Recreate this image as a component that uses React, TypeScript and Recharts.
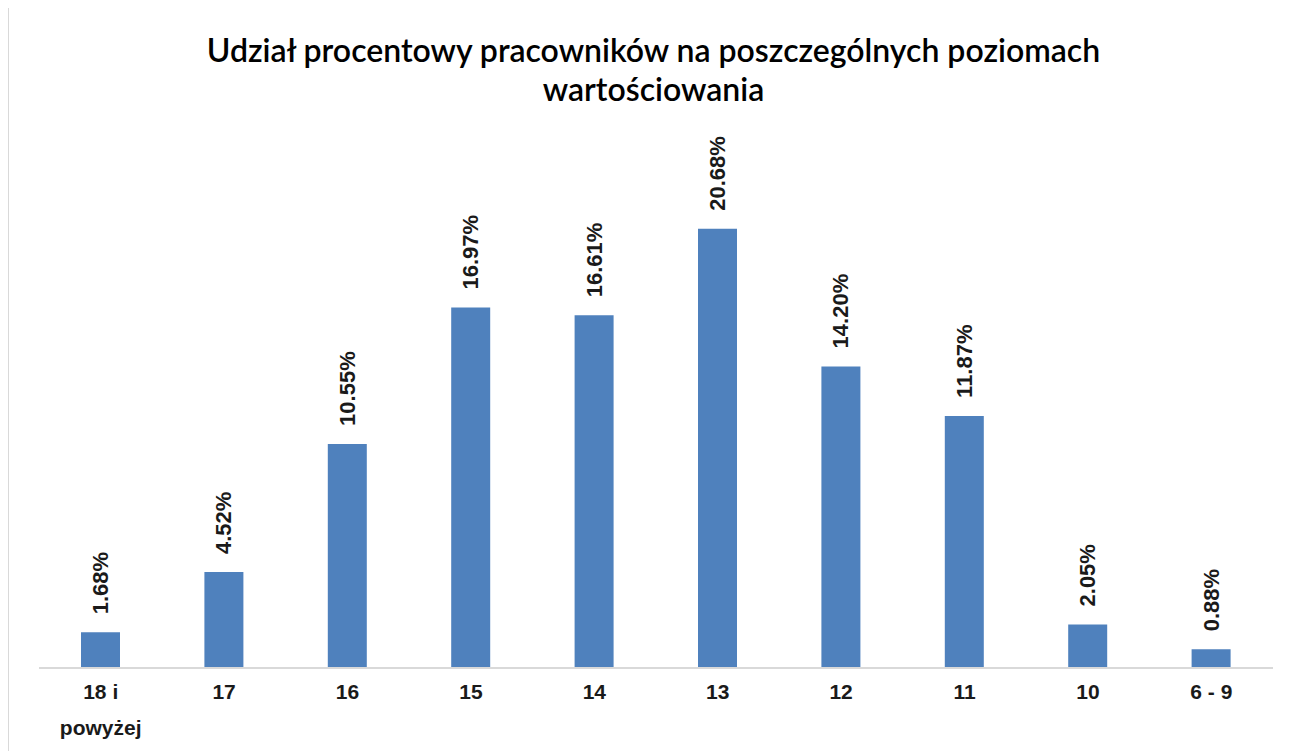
import React from 'react';
import { BarChart, Bar, XAxis, YAxis, LabelList } from 'recharts';

const poziomy = ['18 i powyżej', '17', '16', '15', '14', '13', '12', '11', '10', '6 - 9'];
const udzialy = [1.68, 4.52, 10.55, 16.97, 16.61, 20.68, 14.2, 11.87, 2.05, 0.88];
const tytul = ['Udział procentowy pracowników na poszczególnych poziomach', 'wartościowania'];

const dane = poziomy.map((poziom, i) => ({ poziom, udzial: udzialy[i] }));

const CZCIONKA = '"Liberation Sans", Arial, sans-serif';

// Etykieta osi X - dłuższe nazwy łamane na dwie linie
const TickKategorii = ({ x, y, payload }: any) => {
  const tekst: string = payload.value;
  let linie = [tekst];
  if (tekst.length > 8) {
    const idx = tekst.lastIndexOf(' ');
    linie = [tekst.slice(0, idx), tekst.slice(idx + 1)];
  }
  return (
    <g transform={`translate(${x},${y})`}>
      {linie.map((l, i) => (
        <text
          key={i}
          x={0}
          y={23 + i * 36}
          textAnchor="middle"
          fill="#1a1a1a"
          fontSize={21}
          fontWeight={600}
          fontFamily={CZCIONKA}
        >
          {l}
        </text>
      ))}
    </g>
  );
};

// Pionowa etykieta wartości nad słupkiem
const EtykietaWartosci = (props: any) => {
  const { x, y, width, value } = props;
  const cx = x + width / 2;
  const cy = y - 18;
  return (
    <text
      x={cx}
      y={cy}
      transform={`rotate(-90, ${cx}, ${cy})`}
      textAnchor="start"
      dominantBaseline="central"
      fill="#1a1a1a"
      fontSize={22}
      fontWeight={600}
      fontFamily={CZCIONKA}
    >
      {Number(value).toFixed(2)}%
    </text>
  );
};

const App: React.FC = () => {
  return (
    <div
      style={{
        position: 'relative',
        width: 1291,
        height: 750,
        marginTop: -2,
        border: '1px solid #d9d9d9',
        background: '#fff',
        boxSizing: 'border-box',
      }}
    >
      <div
        style={{
          position: 'absolute',
          left: 0,
          top: 23,
          width: '100%',
          textAlign: 'center',
          fontFamily: 'Lato, "Open Sans", sans-serif',
          fontSize: 32,
          fontWeight: 600,
          lineHeight: '39px',
          color: '#000',
        }}
      >
        {tytul.map((t) => (
          <div key={t}>{t}</div>
        ))}
      </div>
      <BarChart
        width={1289}
        height={745}
        data={dane}
        margin={{ top: 130, right: 25, left: 30, bottom: 24 }}
      >
        <XAxis
          dataKey="poziom"
          height={60}
          tickLine={false}
          axisLine={{ stroke: '#d9d9d9', strokeWidth: 2 }}
          interval={0}
          tick={<TickKategorii />}
        />
        <YAxis hide domain={[0, 25]} />
        <Bar dataKey="udzial" fill="#4F81BD" barSize={39} isAnimationActive={false}>
          <LabelList dataKey="udzial" content={<EtykietaWartosci />} />
        </Bar>
      </BarChart>
    </div>
  );
};

export default App;
